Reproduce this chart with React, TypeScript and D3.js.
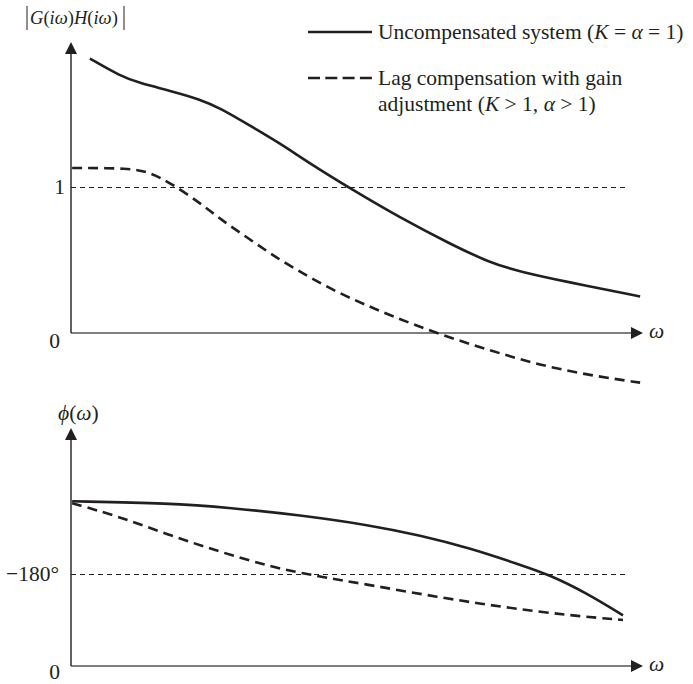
import * as d3 from "d3";
import { useEffect, useRef } from "react";

// frequency axis (arbitrary ω units, 0..10)
const magUncompW = [0.33, 0.86, 1.21, 1.73, 2.26, 2.61, 3.13, 3.65, 4.18, 4.88, 5.75, 6.63, 7.33, 7.85, 8.67, 9.95];
const magUncomp = [1.88, 1.76, 1.71, 1.66, 1.6, 1.54, 1.42, 1.3, 1.16, 0.99, 0.79, 0.61, 0.48, 0.42, 0.35, 0.25];

const magLagW = [0.02, 1.03, 1.38, 1.73, 2.26, 2.61, 3.13, 3.65, 4.18, 4.7, 5.17, 5.58, 6.45, 7.33, 8.2, 9.07, 9.95];
const magLag = [1.13, 1.13, 1.1, 1.03, 0.89, 0.78, 0.64, 0.5, 0.38, 0.27, 0.19, 0.12, -0.01, -0.12, -0.22, -0.29, -0.34];

// phase in units where the −180° reference = 1
const phUncompW = [0.02, 1.73, 2.78, 4.0, 5.23, 6.1, 6.98, 7.85, 8.37, 9.02, 9.65];
const phUncomp = [1.79, 1.77, 1.72, 1.64, 1.53, 1.42, 1.28, 1.1, 0.99, 0.79, 0.55];

const phLagW = [0.02, 0.86, 1.73, 2.61, 3.48, 4.18, 5.23, 6.4, 7.55, 8.72, 9.65];
const phLag = [1.77, 1.62, 1.42, 1.24, 1.08, 0.99, 0.88, 0.75, 0.64, 0.55, 0.5];

const legendLabels = ["Uncompensated system", "Lag compensation with gain", "adjustment"];

document.body.style.margin = "0";

export default function App() {
  const svgRef = useRef(null);

  useEffect(() => {
    const w = 693;
    const h = 684;
    const ink = "#231f20";
    const font = "'Liberation Serif', 'Times New Roman', serif";
    const fs = 21.5;

    const svg = d3.select(svgRef.current).attr("width", w).attr("height", h);
    svg.selectAll("*").remove();
    svg.append("rect").attr("width", w).attr("height", h).attr("fill", "#fff");

    const x = d3.scaleLinear().domain([0, 10]).range([71, 643]);
    const yMag = d3.scaleLinear().domain([0, 1]).range([333, 187]);
    const yPh = d3.scaleLinear().domain([0, 1]).range([666, 574]);

    const line = (xs: number[], ys: number[], yS: d3.ScaleLinear<number, number>) =>
      d3
        .line<number>()
        .x((_, i) => x(xs[i]))
        .y((d) => yS(d))
        .curve(d3.curveBasis)(ys);

    const drawAxes = (yS: d3.ScaleLinear<number, number>, topY: number) => {
      const y0 = yS(0);
      const x0 = x(0);
      const xEnd = x(10);
      svg.append("line").attr("x1", x0).attr("y1", y0).attr("x2", xEnd - 10).attr("y2", y0)
        .attr("stroke", "#555").attr("stroke-width", 1.6);
      svg.append("path").attr("d", `M${xEnd},${y0} L${xEnd - 12},${y0 - 6} L${xEnd - 12},${y0 + 6} Z`).attr("fill", ink);
      svg.append("line").attr("x1", x0).attr("y1", y0).attr("x2", x0).attr("y2", topY + 10)
        .attr("stroke", ink).attr("stroke-width", 1.4);
      svg.append("path").attr("d", `M${x0},${topY} L${x0 - 6},${topY + 12} L${x0 + 6},${topY + 12} Z`).attr("fill", ink);
      svg.append("text").attr("x", xEnd + 6).attr("y", y0 + 5).attr("font-family", font)
        .attr("font-style", "italic").attr("font-size", fs).attr("fill", ink).text("ω");
    };

    const refLine = (yv: number) =>
      svg.append("line").attr("x1", x(0)).attr("x2", 625).attr("y1", Math.round(yv) + 0.5).attr("y2", Math.round(yv) + 0.5)
        .attr("stroke", ink).attr("stroke-width", 1.2).attr("stroke-dasharray", "5,4");

    // ---- magnitude panel
    drawAxes(yMag, 42);
    refLine(yMag(1));
    svg.append("path").attr("d", line(magUncompW, magUncomp, yMag)).attr("fill", "none")
      .attr("stroke", ink).attr("stroke-width", 2.6);
    svg.append("path").attr("d", line(magLagW, magLag, yMag)).attr("fill", "none")
      .attr("stroke", ink).attr("stroke-width", 2.6).attr("stroke-dasharray", "10,6");

    svg.append("text").attr("x", 65).attr("y", yMag(1) + 7).attr("text-anchor", "end")
      .attr("font-family", font).attr("font-size", fs).attr("fill", ink).text("1");
    svg.append("text").attr("x", 60).attr("y", yMag(0) + 15).attr("text-anchor", "end")
      .attr("font-family", font).attr("font-size", fs).attr("fill", ink).text("0");

    const gl = svg.append("text").attr("x", 30).attr("y", 24).attr("font-family", font)
      .attr("font-size", 18.5).attr("fill", ink);
    [["G", true], ["(", false], ["i", true], ["ω", true], [")", false], ["H", true], ["(", false], ["i", true], ["ω", true], [")", false]]
      .forEach(([t, it]) => gl.append("tspan").attr("font-style", it ? "italic" : "normal").text(t as string));
    svg.append("line").attr("x1", 27).attr("x2", 27).attr("y1", 6).attr("y2", 30).attr("stroke", ink).attr("stroke-width", 1);
    svg.append("line").attr("x1", 124).attr("x2", 124).attr("y1", 6).attr("y2", 30).attr("stroke", ink).attr("stroke-width", 1);

    // ---- legend
    const lg = svg.append("g").attr("font-family", font).attr("font-size", fs).attr("fill", ink);
    lg.append("line").attr("x1", 308).attr("x2", 372).attr("y1", 32).attr("y2", 32).attr("stroke", ink).attr("stroke-width", 2.6);
    lg.append("line").attr("x1", 308).attr("x2", 372).attr("y1", 78).attr("y2", 78).attr("stroke", ink)
      .attr("stroke-width", 2.6).attr("stroke-dasharray", "12,5.3");
    const t1 = lg.append("text").attr("x", 378).attr("y", 39);
    t1.append("tspan").text(legendLabels[0] + " (");
    t1.append("tspan").attr("font-style", "italic").text("K");
    t1.append("tspan").text(" = ");
    t1.append("tspan").attr("font-style", "italic").text("α");
    t1.append("tspan").text(" = 1)");
    lg.append("text").attr("x", 378).attr("y", 85).text(legendLabels[1]);
    const t3 = lg.append("text").attr("x", 378).attr("y", 111);
    t3.append("tspan").text(legendLabels[2] + " (");
    t3.append("tspan").attr("font-style", "italic").text("K");
    t3.append("tspan").text(" > 1, ");
    t3.append("tspan").attr("font-style", "italic").text("α");
    t3.append("tspan").text(" > 1)");

    // ---- phase panel
    drawAxes(yPh, 428);
    refLine(yPh(1));
    svg.append("path").attr("d", line(phUncompW, phUncomp, yPh)).attr("fill", "none")
      .attr("stroke", ink).attr("stroke-width", 2.6);
    svg.append("path").attr("d", line(phLagW, phLag, yPh)).attr("fill", "none")
      .attr("stroke", ink).attr("stroke-width", 2.6).attr("stroke-dasharray", "10,6");

    svg.append("text").attr("x", 59).attr("y", yPh(1) + 7).attr("text-anchor", "end")
      .attr("font-family", font).attr("font-size", fs).attr("fill", ink).text("−180°");
    svg.append("text").attr("x", 60).attr("y", yPh(0) + 13).attr("text-anchor", "end")
      .attr("font-family", font).attr("font-size", fs).attr("fill", ink).text("0");

    const ph = svg.append("text").attr("x", 58).attr("y", 420).attr("font-family", font)
      .attr("font-size", fs).attr("fill", ink);
    ph.append("tspan").attr("font-style", "italic").text("ϕ");
    ph.append("tspan").text("(");
    ph.append("tspan").attr("font-style", "italic").text("ω");
    ph.append("tspan").text(")");
  }, []);

  return <svg ref={svgRef} style={{ display: "block" }}></svg>;
}
